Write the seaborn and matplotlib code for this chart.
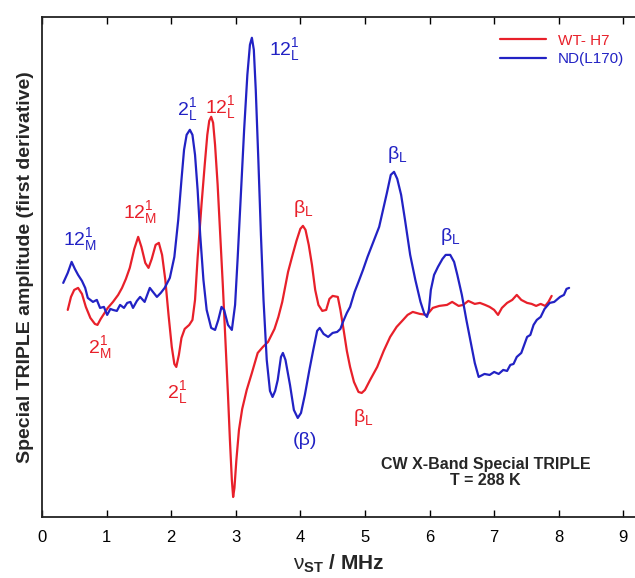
# -*- coding: utf-8 -*-
"""
CW X-Band Special TRIPLE spectra: WT-H7 vs ND(L170)
"""
import matplotlib
matplotlib.use('Agg')
import matplotlib.pyplot as plt
import pandas as pd
import seaborn as sns

# WT-H7 trace (frequency in MHz, amplitude in arbitrary units)
wt_freq = [0.40, 0.45, 0.50, 0.56, 0.62, 0.68, 0.75, 0.82, 0.86, 0.91, 0.97, 1.02, 1.10,
           1.18, 1.24, 1.30, 1.36, 1.43, 1.49, 1.54, 1.60, 1.65, 1.70, 1.76, 1.81, 1.86,
           1.91, 1.96, 2.01, 2.05, 2.08, 2.12, 2.16, 2.21, 2.28, 2.33, 2.37, 2.41, 2.47,
           2.52, 2.56, 2.59, 2.62, 2.65, 2.68, 2.72, 2.76, 2.80, 2.84, 2.88, 2.91, 2.94,
           2.96, 2.98, 3.01, 3.05, 3.10, 3.17, 3.25, 3.34, 3.42, 3.50, 3.60, 3.66, 3.72,
           3.81, 3.88, 3.94, 4.00, 4.04, 4.08, 4.13, 4.18, 4.23, 4.28, 4.34, 4.40, 4.45,
           4.50, 4.58, 4.62, 4.67, 4.72, 4.77, 4.83, 4.90, 4.95, 5.00, 5.08, 5.19, 5.29,
           5.39, 5.49, 5.59, 5.66, 5.74, 5.85, 5.96, 6.05, 6.15, 6.27, 6.35, 6.45, 6.52,
           6.60, 6.70, 6.78, 6.86, 6.93, 7.00, 7.06, 7.12, 7.20, 7.28, 7.35, 7.42, 7.51,
           7.58, 7.65, 7.72, 7.79, 7.84, 7.89]
wt_amp = [-0.5, 0.8, 1.5, 1.7, 1.1, -0.2, -1.3, -1.9, -2.0, -1.4, -0.8, -0.3, 0.3,
          1.0, 1.7, 2.6, 3.7, 5.6, 6.8, 5.8, 4.2, 3.7, 4.6, 6.0, 6.2, 5.0,
          2.5, -1.0, -4.2, -5.9, -6.2, -5.0, -3.3, -2.4, -2.0, -1.5, 0.5, 4.7, 10.0,
          14.0, 17.0, 18.4, 18.8, 18.2, 16.0, 12.0, 7.0, 2.0, -3.5, -9.0, -13.5, -17.5,
          -19.2, -18.3, -15.5, -12.5, -10.4, -8.5, -6.8, -4.8, -4.2, -3.7, -2.4, -1.2, 0.3,
          3.3, 5.0, 6.4, 7.6, 7.9, 7.5, 6.0, 4.0, 1.5, 0.0, -0.6, -0.5, 0.6,
          0.9, 0.8, -0.5, -2.5, -4.6, -6.2, -7.7, -8.7, -8.8, -8.5, -7.5, -6.2, -4.6,
          -3.2, -2.2, -1.5, -1.0, -0.7, -0.9, -1.0, -0.3, -0.1, 0.0, 0.3, -0.1, 0.0,
          0.4, 0.1, 0.2, 0.0, -0.2, -0.5, -1.0, -0.3, 0.2, 0.5, 1.0, 0.5, 0.2,
          0.1, -0.1, 0.1, -0.1, 0.3, 0.9]

# ND(L170) trace
nd_freq = [0.33, 0.40, 0.46, 0.51, 0.56, 0.62, 0.67, 0.71, 0.79, 0.85, 0.90, 0.96, 1.01,
           1.06, 1.10, 1.16, 1.21, 1.27, 1.32, 1.37, 1.41, 1.47, 1.52, 1.59, 1.67, 1.73,
           1.78, 1.84, 1.90, 1.98, 2.05, 2.11, 2.16, 2.20, 2.24, 2.29, 2.33, 2.37, 2.41,
           2.45, 2.50, 2.55, 2.62, 2.68, 2.73, 2.78, 2.82, 2.88, 2.94, 2.99, 3.03, 3.08,
           3.13, 3.18, 3.22, 3.25, 3.28, 3.31, 3.35, 3.39, 3.43, 3.48, 3.53, 3.57, 3.61,
           3.65, 3.70, 3.73, 3.77, 3.84, 3.90, 3.96, 4.01, 4.07, 4.14, 4.20, 4.26, 4.30,
           4.36, 4.43, 4.50, 4.57, 4.62, 4.66, 4.72, 4.77, 4.84, 4.90, 4.97, 5.04, 5.10,
           5.16, 5.22, 5.28, 5.34, 5.40, 5.45, 5.50, 5.56, 5.62, 5.70, 5.78, 5.86, 5.92,
           5.96, 5.99, 6.02, 6.07, 6.13, 6.20, 6.25, 6.32, 6.38, 6.43, 6.50, 6.57, 6.63,
           6.70, 6.76, 6.85, 6.93, 7.00, 7.07, 7.14, 7.20, 7.25, 7.30, 7.35, 7.42, 7.51,
           7.56, 7.61, 7.66, 7.72, 7.78, 7.86, 7.93, 8.02, 8.08, 8.12, 8.16]
nd_amp = [2.2, 3.2, 4.3, 3.6, 3.0, 2.4, 1.7, 0.7, 0.3, 0.5, -0.3, -0.2, -1.0,
          -0.4, -0.5, -0.6, 0.0, -0.3, 0.2, 0.3, -0.3, 0.4, 0.8, 0.3, 1.7, 1.2,
          0.8, 1.2, 1.7, 2.7, 4.8, 8.5, 12.5, 15.5, 17.0, 17.5, 17.0, 15.0, 11.5,
          7.0, 2.5, -0.5, -2.3, -2.5, -1.5, -0.2, -0.5, -2.0, -2.5, 0.0, 4.7, 11.0,
          17.5, 23.0, 26.0, 26.7, 25.5, 21.5, 14.5, 7.0, 0.5, -5.5, -8.6, -9.2, -8.6,
          -7.5, -5.2, -4.8, -5.5, -8.0, -10.5, -11.3, -10.8, -9.0, -6.5, -4.5, -2.6, -2.3,
          -2.9, -3.2, -2.8, -2.7, -2.4, -1.7, -0.8, -0.2, 1.3, 2.3, 3.5, 4.8, 5.8,
          6.8, 7.8, 9.5, 11.2, 13.0, 13.3, 12.6, 11.0, 8.5, 5.0, 2.5, 0.3, -0.9,
          -1.2, -0.5, 1.5, 3.0, 3.8, 4.6, 5.0, 5.0, 4.3, 3.0, 1.0, -1.5, -3.5,
          -5.8, -7.2, -6.9, -7.0, -6.7, -6.9, -6.5, -6.6, -6.0, -5.9, -5.2, -4.8, -3.2,
          -3.0, -2.0, -1.5, -1.2, -0.4, 0.2, 0.3, 0.8, 1.0, 1.6, 1.7]

series_names = ['WT- H7', 'ND(L170)']
series_colors = ['#e8202a', '#2222c4']
x_ticks = list(range(0, 10))

# peak assignments: (label, freq, amp, series index)
peak_labels = [
    (r'$\mathrm{12_M^1}$', 0.59, 6.5, 1),
    (r'$\mathrm{2_M^1}$', 0.90, -4.3, 0),
    (r'$\mathrm{12_M^1}$', 1.52, 9.2, 0),
    (r'$\mathrm{2_L^1}$', 2.09, -8.8, 0),
    (r'$\mathrm{2_L^1}$', 2.24, 19.5, 1),
    (r'$\mathrm{12_L^1}$', 2.76, 19.7, 0),
    (r'$\mathrm{12_L^1}$', 3.76, 25.5, 1),
    (r'$\mathrm{β_L}$', 4.04, 9.6, 0),
    (r'$\mathrm{β_L}$', 5.50, 15.0, 1),
    (r'$\mathrm{β_L}$', 6.32, 6.8, 1),
    (r'$\mathrm{β_L}$', 4.97, -11.3, 0),
    ('(β)', 4.07, -13.6, 1),
]

sns.set_theme(style='white')
plt.rcParams['font.family'] = ['Liberation Sans', 'DejaVu Sans']
plt.rcParams['mathtext.fontset'] = 'custom'
plt.rcParams['mathtext.rm'] = 'Liberation Sans'
plt.rcParams['mathtext.it'] = 'Liberation Sans:italic'
plt.rcParams['mathtext.bf'] = 'Liberation Sans:bold'

df = pd.concat([
    pd.DataFrame({'freq': wt_freq, 'amp': wt_amp, 'sample': series_names[0]}),
    pd.DataFrame({'freq': nd_freq, 'amp': nd_amp, 'sample': series_names[1]}),
], ignore_index=True)

fig = plt.figure(figsize=(6.35, 5.78), dpi=100)
ax = fig.add_axes([0.066, 0.1055, 0.934, 0.8655])

sns.lineplot(data=df, x='freq', y='amp', hue='sample', palette=series_colors,
             estimator=None, sort=False, linewidth=1.6, ax=ax)

ax.set_xlim(0, 9.18)
ax.set_ylim(-21.2, 28.8)
ax.set_xticks(x_ticks)
ax.set_yticks([])
ax.tick_params(axis='x', direction='in', top=True, bottom=True, length=5, width=1,
               labelsize=12, pad=9, colors='black')
for side in ['left', 'bottom', 'top']:
    ax.spines[side].set_color('#222222')
    ax.spines[side].set_linewidth(1.3)
ax.spines['right'].set_visible(False)

ax.set_xlabel(r'$\mathrm{ν}_\mathbf{ST}$ / MHz', fontsize=15, fontweight='bold', labelpad=6)
ax.set_ylabel('Special TRIPLE amplitude (first derivative)', fontsize=14,
              fontweight='bold', labelpad=6)

for text, fx, fy, idx in peak_labels:
    ax.text(fx, fy, text, color=series_colors[idx], fontsize=14, ha='center', va='center')

fig.text(0.765, 0.196, 'CW X-Band Special TRIPLE', fontsize=11.5, fontweight='bold',
         ha='center', va='center')
fig.text(0.765, 0.168, 'T = 288 K', fontsize=11.5, fontweight='bold',
         ha='center', va='center')

leg = ax.legend(frameon=False, loc='upper left', bbox_to_anchor=(0.787, 0.942),
                bbox_transform=fig.transFigure, borderpad=0, borderaxespad=0,
                handlelength=3.0, handletextpad=0.8, labelspacing=0.3, fontsize=11)
for txt, col in zip(leg.get_texts(), series_colors):
    txt.set_color(col)
for line in leg.get_lines():
    line.set_linewidth(1.6)

fig.savefig('out.png', dpi=100)
